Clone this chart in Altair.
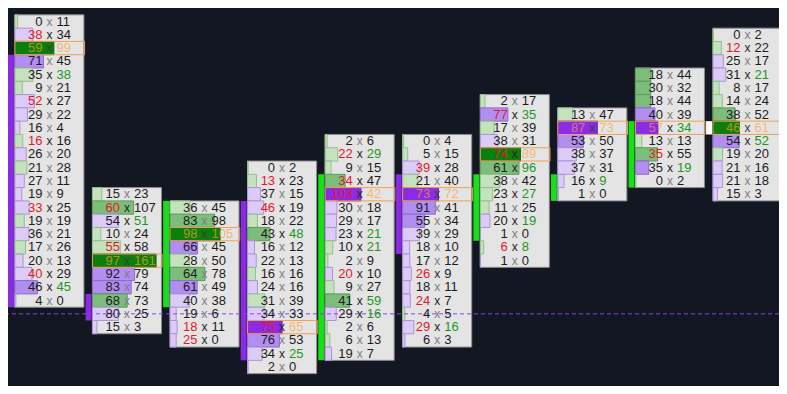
import altair as alt
import pandas as pd

# ---------------- data ----------------
# highest price level of each bar (levels are price ticks, higher = higher price)
highs = [26, 13, 12, 15, 17, 17, 20, 19, 22, 25]
# bid volume per level, from the high downwards
bids = [
    [0, 38, 59, 71, 35, 9, 52, 29, 16, 16, 26, 21, 27, 19, 33, 19, 36, 17, 20, 40, 46, 4],
    [15, 60, 54, 10, 55, 97, 92, 83, 68, 80, 15],
    [36, 83, 98, 66, 28, 64, 61, 40, 19, 18, 25],
    [0, 13, 37, 46, 18, 43, 16, 22, 16, 24, 31, 34, 75, 76, 34, 2],
    [2, 22, 9, 34, 103, 30, 29, 23, 10, 2, 20, 9, 41, 29, 2, 6, 19],
    [0, 5, 39, 21, 73, 91, 55, 39, 18, 17, 26, 18, 24, 4, 29, 6],
    [2, 77, 17, 38, 74, 61, 38, 23, 11, 20, 1, 6, 1],
    [13, 87, 53, 38, 37, 16, 1],
    [18, 30, 18, 40, 57, 13, 35, 35, 0],
    [0, 12, 25, 31, 8, 14, 38, 46, 54, 19, 21, 21, 15],
]
# ask volume per level, from the high downwards
asks = [
    [11, 34, 99, 45, 38, 21, 27, 22, 4, 16, 20, 28, 11, 9, 25, 19, 21, 26, 13, 29, 45, 0],
    [23, 107, 51, 24, 58, 161, 79, 74, 73, 25, 3],
    [45, 98, 105, 45, 50, 78, 49, 38, 6, 11, 0],
    [2, 23, 15, 19, 22, 48, 12, 13, 16, 16, 39, 33, 65, 53, 25, 0],
    [6, 29, 15, 47, 42, 18, 17, 21, 21, 9, 10, 27, 59, 16, 6, 13, 7],
    [4, 15, 28, 40, 72, 41, 34, 29, 10, 12, 9, 11, 7, 5, 16, 3],
    [17, 35, 39, 31, 89, 96, 42, 27, 25, 19, 0, 8, 0],
    [47, 73, 50, 37, 31, 9, 0],
    [44, 32, 44, 39, 34, 13, 55, 19, 2],
    [2, 22, 17, 21, 17, 24, 52, 61, 52, 20, 16, 18, 3],
]
opens = [23, 5, 5, 12, 1, 14, 10, 13, 14, 18]
closes = [5, 4, 12, 1, 14, 9, 14, 14, 18, 18]
last_level = 4
imbalance_ratio = 2

# ---------------- layout / style constants ----------------
PITCH = 78.67            # px per bar column in the reference
PX = 1 / PITCH           # one reference pixel in column units
BOX_W = 70 * PX
VOL_PX = 0.25            # px of histogram per contract
TEXT_C = 35 * PX

FILLS = {
    ("lit", True): ("#c3e2bd", "#93c08d"),
    ("mid", True): ("#7dbd7b", "#5c9c5a"),
    ("poc", True): ("#0c7e0c", "#0a6a0a"),
    ("lit", False): ("#dccbf7", "#ab94d6"),
    ("mid", False): ("#b28ef0", "#8d6bcc"),
    ("poc", False): ("#8b2be6", "#6c1fb8"),
}
RED = "#e3192b"
GREEN = "#1e961e"
NORMAL = "#1c1c1c"
POC_TXT = "rgba(255,160,48,0.68)"

rows, boxes, pocs, candles = [], [], [], []
ncol = len(highs)
for c in range(ncol):
    hi, bl, al = highs[c], bids[c], asks[c]
    n = len(bl)
    tot = [b + a for b, a in zip(bl, al)]
    mx = max(tot)
    poc_i = tot.index(mx)
    boxes.append({"x0": c, "x1": c + BOX_W, "y0": hi + 0.5, "y1": hi - n + 0.5})
    x_end = (c + 1 - 8 * PX) if c < ncol - 1 else c + BOX_W
    pocs.append({"x0": c, "x1": x_end, "y0": hi - poc_i + 0.5, "y1": hi - poc_i - 0.5})
    for i in range(n):
        lvl = hi - i
        b, a = bl[i], al[i]
        bid_imb = i > 0 and b > imbalance_ratio * al[i - 1]
        ask_imb = i < n - 1 and a > imbalance_ratio * bl[i + 1]
        poc = i == poc_i
        green = a >= b
        shade = "poc" if poc else ("mid" if tot[i] > 0.5 * mx else "lit")
        fill, stroke = FILLS[(shade, green)]
        base = POC_TXT if poc else NORMAL
        rows.append({
            "x0": c,
            "xb": c + min(tot[i] * VOL_PX * PX, BOX_W),
            "xc": c + TEXT_C,
            "lvl": lvl,
            "yt": lvl + 0.5,
            "yb": lvl - 0.5,
            "bid": str(b),
            "ask": str(a),
            "xs": "x",
            "fill": fill,
            "stroke": stroke,
            "bc": RED if bid_imb else base,
            "ac": GREEN if ask_imb else base,
            "xcol": "#262626" if (bid_imb or ask_imb) else ("#3c3c3c" if poc else "#7d7d7d"),
        })
    o, cl = opens[c], closes[c]
    col = "#16e016" if cl > o else ("#8a2be2" if cl < o else "#ffffff")
    candles.append({"x0": c - 7 * PX, "x1": c - 1 * PX,
                    "y0": max(o, cl) + 0.5, "y1": min(o, cl) - 0.5, "col": col})

df = pd.DataFrame(rows)
box_df = pd.DataFrame(boxes)
poc_df = pd.DataFrame(pocs)
cdl_df = pd.DataFrame(candles)
last_df = pd.DataFrame({"lvl": [last_level]})

xs = alt.Scale(domain=[-7 * PX, 775 * PX], nice=False, zero=False)
ys = alt.Scale(domain=[-1.43, 27.016], nice=False, zero=False)
X = lambda f: alt.X(f, type="quantitative", scale=xs, axis=None)
Y = lambda f: alt.Y(f, type="quantitative", scale=ys, axis=None)

box_layer = alt.Chart(box_df).mark_rect(fill="#e4e4e4", stroke="#8c8c8c", strokeWidth=1).encode(
    x=X("x0"), x2="x1", y=Y("y0"), y2="y1")

bar_layer = alt.Chart(df).mark_rect(strokeWidth=1).encode(
    x=X("x0"), x2="xb", y=Y("yt"), y2="yb",
    fill=alt.Fill("fill:N", scale=None), stroke=alt.Stroke("stroke:N", scale=None))

poc_layer = alt.Chart(poc_df).mark_rect(fillOpacity=0, stroke="#f0a057", strokeWidth=1).encode(
    x=X("x0"), x2="x1", y=Y("y0"), y2="y1")

cdl_layer = alt.Chart(cdl_df).mark_rect().encode(
    x=X("x0"), x2="x1", y=Y("y0"), y2="y1", color=alt.Color("col:N", scale=None))

last_layer = alt.Chart(last_df).mark_rule(color="#9140e8", strokeDash=[4, 3], strokeWidth=1).encode(
    y=Y("lvl"))

tfont = dict(font="Liberation Sans", fontSize=13, baseline="middle")
bid_layer = alt.Chart(df).mark_text(align="right", dx=-7, **tfont).encode(
    x=X("xc"), y=Y("lvl"), text="bid:N", color=alt.Color("bc:N", scale=None))
x_layer = alt.Chart(df).mark_text(align="center", font="Liberation Sans", fontSize=12,
                                  baseline="middle").encode(
    x=X("xc"), y=Y("lvl"), text="xs:N", color=alt.Color("xcol:N", scale=None))
ask_layer = alt.Chart(df).mark_text(align="left", dx=7, **tfont).encode(
    x=X("xc"), y=Y("lvl"), text="ask:N", color=alt.Color("ac:N", scale=None))

chart = alt.layer(
    box_layer, bar_layer, poc_layer, cdl_layer, last_layer, bid_layer, x_layer, ask_layer
).properties(
    width=771, height=378, padding=0,
    autosize=alt.AutoSizeParams(type="none"),
    background="#131722",
).configure_view(stroke=None)

chart.save("out.html", embed_options={"renderer": "svg", "actions": False})
